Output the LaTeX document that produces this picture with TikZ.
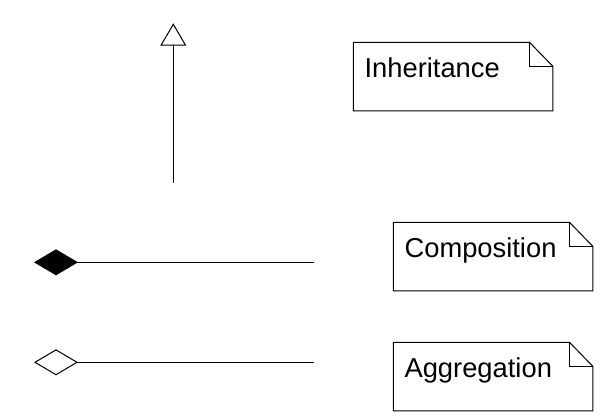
\documentclass[tikz,border=0pt]{standalone}
\usepackage{fontspec}
\setmainfont{Liberation Sans}
\usetikzlibrary{arrows.meta}
\tikzset{
  notetext/.style={anchor=north west, inner xsep=8.25pt, inner ysep=0pt,
    text width=132.75pt, text height=25.9pt, text depth=25.1pt,
    font=\fontsize{20.5}{24}\selectfont},
  umlline/.style={line width=0.75pt},
}
\newcommand{\notebox}[3]{%
  \node[notetext] (#1) at #2 {#3};
  \draw[umlline] (#1.north west) -- ([xshift=-17.5pt]#1.north east)
    -- ([yshift=-18pt]#1.north east) -- (#1.south east) -- (#1.south west) -- cycle;
  \draw[umlline] ([xshift=-17.5pt]#1.north east) |- ([yshift=-18pt]#1.north east);
}

\begin{document}
\begin{tikzpicture}[x=0.75pt,y=-0.75pt]
    \useasboundingbox (0,0) rectangle (611,418);
    \coordinate (inhTail) at (173.3,182.7);
    \coordinate (inhHead) at (173.3,23.3);
    \coordinate (compEnd) at (314,262.3);
    \coordinate (compTip) at (34,262.3);
    \coordinate (aggEnd) at (314,362.3);
    \coordinate (aggTip) at (34,362.3);
    \draw[umlline,-{Triangle[open,length=16.8pt,width=19.5pt]}]
      (inhTail) -- (inhHead);
    \draw[umlline,-{Diamond[length=33pt,width=19.5pt]}]
      (compEnd) -- (compTip);
    \draw[umlline,-{Diamond[open,length=33pt,width=19.5pt]}]
      (aggEnd) -- (aggTip);
    \notebox{inherit}{(353.3,42.3)}{Inheritance}
    \notebox{compose}{(393.3,222.3)}{Composition}
    \notebox{aggregate}{(393.3,342.3)}{Aggregation}
  \end{tikzpicture}
\end{document}
